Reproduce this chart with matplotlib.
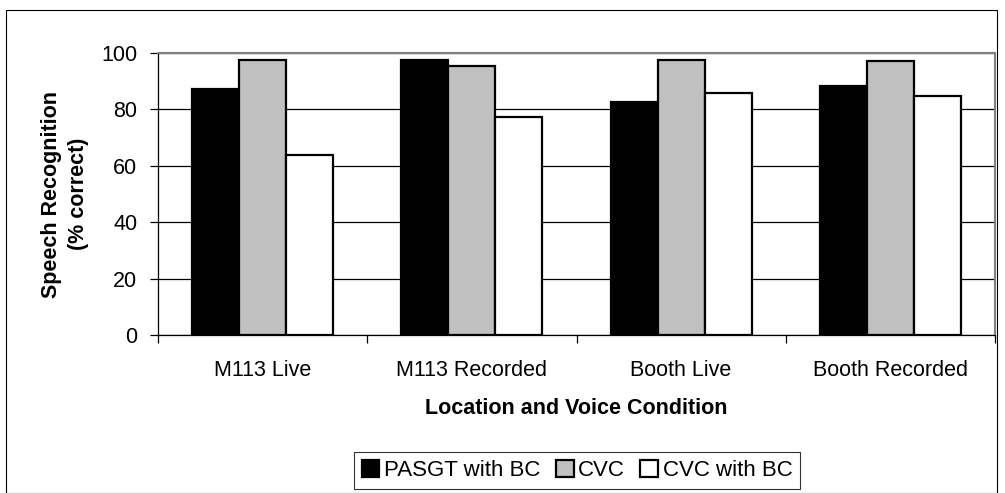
import matplotlib
matplotlib.use("Agg")
import matplotlib.pyplot as plt
import numpy as np
from matplotlib.patches import Rectangle

plt.rcParams['font.family'] = ['Liberation Sans', 'DejaVu Sans']

categories = ["M113 Live", "M113 Recorded", "Booth Live", "Booth Recorded"]
series_names = ["PASGT with BC", "CVC", "CVC with BC"]
pasgt_bc = [87.2, 97.5, 82.5, 88.3]
cvc = [97.5, 95.5, 97.5, 97.2]
cvc_bc = [63.8, 77.3, 85.9, 84.8]
colors = ["#000000", "#c0c0c0", "#ffffff"]

FS = 15.5
W, H = 1005, 493
fig = plt.figure(figsize=(W / 100, H / 100), dpi=100)
# outer frame
fig.add_artist(Rectangle((6 / W, 0), (997 - 6) / W, (H - 10) / H, transform=fig.transFigure,
                         fill=False, edgecolor="black", linewidth=0.8))

left, right, top, bottom = 158, 995, 53, 335
ax = fig.add_axes([left / W, 1 - bottom / H, (right - left) / W, (bottom - top) / H])

x = np.arange(len(categories))
bw = 0.225
for i, (vals, c) in enumerate(zip([pasgt_bc, cvc, cvc_bc], colors)):
    ax.bar(x + (i - 1) * bw, vals, width=bw, color=c, edgecolor="black", linewidth=1.6,
           label=series_names[i], zorder=3)

ax.set_xlim(-0.5, len(categories) - 0.5)
ax.set_ylim(0, 100)
ax.set_yticks([0, 20, 40, 60, 80, 100])
ax.yaxis.grid(True, color="black", linewidth=0.9, zorder=0)
ax.set_axisbelow(True)
ax.tick_params(axis='y', direction='out', length=6, width=0.9, labelsize=FS, pad=9)
ax.set_xticks(x)
ax.set_xticklabels(categories, fontsize=FS)
ax.set_xticks(np.arange(-0.5, len(categories)), minor=True)
ax.tick_params(axis='x', which='major', length=0, pad=18)
ax.tick_params(axis='x', which='minor', direction='out', length=6, width=0.9)

for s in ['top', 'right']:
    ax.spines[s].set_color("#808080")
    ax.spines[s].set_linewidth(1.5)
for s in ['left', 'bottom']:
    ax.spines[s].set_color("black")
    ax.spines[s].set_linewidth(0.9)

ax.set_ylabel("Speech Recognition\n(% correct)", fontsize=FS, fontweight='bold', labelpad=8.5,
              linespacing=1.4)
ax.set_xlabel("Location and Voice Condition", fontsize=FS, fontweight='bold', labelpad=12)

leg = fig.legend(loc='center', bbox_to_anchor=(577 / W, 1 - 470.5 / H), ncol=3, fontsize=16,
                 frameon=True, fancybox=False, edgecolor="black", handlelength=0.8,
                 handleheight=0.8, handletextpad=0.2, columnspacing=0.7, borderpad=0.35)
leg.get_frame().set_linewidth(0.8)

fig.savefig("out.png", dpi=100)
